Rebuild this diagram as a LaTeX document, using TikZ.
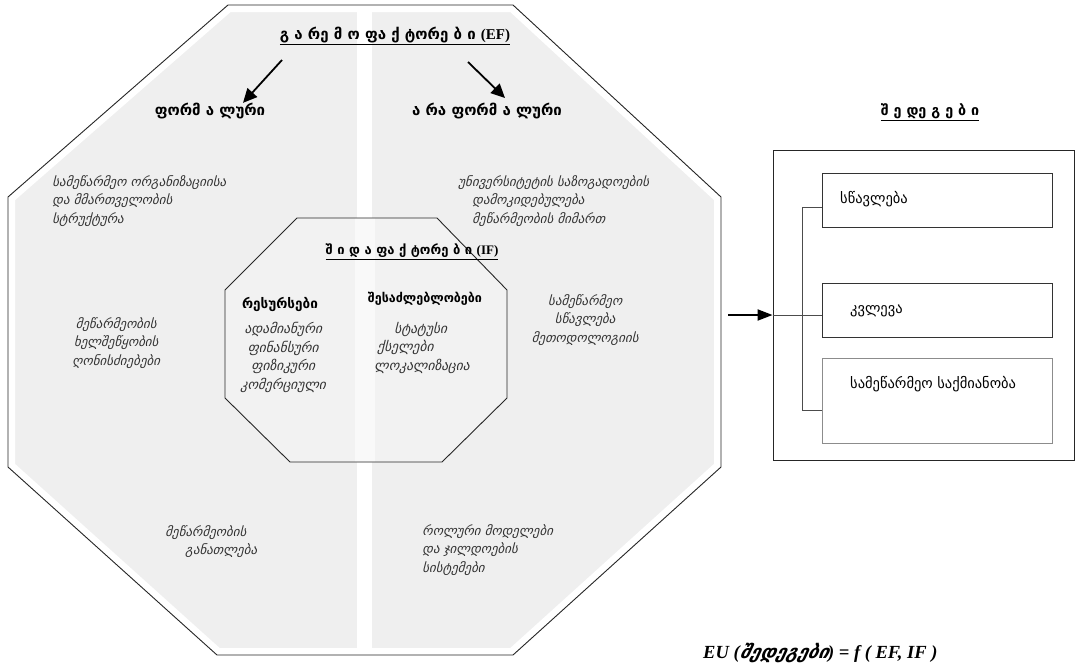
\documentclass[tikz,border=0pt]{standalone}
\usepackage{fontspec}
\setmainfont{Liberation Serif}
\newfontfamily\geo{DejaVu Sans}
\newfontfamily\geoit[FakeSlant=0.25]{DejaVu Sans}
\usetikzlibrary{arrows.meta}
\definecolor{panel}{HTML}{EFEFEF}
\definecolor{ink}{HTML}{333333}
\tikzset{
  itx/.style={font=\geoit\fontsize{13}{18.5}\selectfont, text=ink, align=center, inner sep=0pt},
  itl/.style={itx, align=left},
  hd/.style={font=\geo\bfseries\fontsize{15}{17}\selectfont, inner sep=0pt},
  sub/.style={font=\geo\bfseries\fontsize{13}{15}\selectfont, inner sep=0pt},
  up/.style={font=\geo\fontsize{14.5}{16}\selectfont, inner sep=0pt, anchor=west},
  bigarrow/.style={line width=1.8pt, -{Triangle[length=14pt,width=13pt]}},
  resbox/.style={draw=black!80, line width=0.8pt, minimum width=230pt, inner sep=0pt},
}
\begin{document}
\begin{tikzpicture}[x=1pt,y=-1pt]
\useasboundingbox (0,0) rectangle (1081,662);
% outer octagon
\def\outer{(228,5) -- (513,5) -- (721,197) -- (721,467) -- (513,655) -- (217,655) -- (8,467) -- (8,197) -- cycle}
\fill[panel] \outer;
\draw[white, line width=14pt, line join=miter] \outer;
\fill[white] (357,0) rectangle (372,662);
\draw[black!85, line width=0.9pt] \outer;
% inner octagon
\def\inner{(297,218) -- (437,218) -- (507,290) -- (507,398) -- (442,462) -- (290,462) -- (225,398) -- (225,290) -- cycle}
\fill[panel!80] \inner;
\begin{scope}
\clip \inner;
\fill[white!60!panel] (355,0) rectangle (375,662);
\end{scope}
\draw[black!85, line width=0.9pt] \inner;

% titles
\node[hd] (ef) at (395,36) {\underline{გ ა რე მ ო ფა ქ ტორე ბ ი {\rmfamily\bfseries (EF)}}};
\node[hd] (formal) at (210,111) {ფორმ ა ლური};
\node[hd] (informal) at (487,111) {ა რა ფორმ ა ლური};
\coordinate (la1) at (282,60);
\coordinate (ra1) at (468,62);
\draw[bigarrow] (la1) -- (formal.north -| 243,99);
\draw[bigarrow] (ra1) -- (505,98);

% outer texts
\node[itl, anchor=north west] (t1) at (52,175) {სამეწარმეო ორგანიზაციისა\\და მმართველობის\\სტრუქტურა};
\node[itl, anchor=north west] (t2) at (458,175) {უნივერსიტეტის საზოგადოების\\\hspace*{14pt}დამოკიდებულება\\\hspace*{14pt}მეწარმეობის მიმართ};
\node[itx, anchor=north] (t3) at (116,317) {მეწარმეობის\\ხელშეწყობის\\ღონისძიებები};
\node[itx, anchor=north] (t4) at (585,294) {სამეწარმეო\\სწავლება\\მეთოდოლოგიის};
\node[itl, anchor=north west] (t5) at (165,525) {მეწარმეობის\\\hspace*{20pt}განათლება};
\node[itl, anchor=north west] (t6) at (422,524) {როლური მოდელები\\და ჯილდოების\\სისტემები};

% inner texts
\node[sub] (if) at (412,252) {\underline{შ ი დ ა ფა ქ ტორე ბ ი {\rmfamily\bfseries (IF)}}};
\node[sub, font=\geo\bfseries\fontsize{13.5}{15}\selectfont] (res) at (280,304) {რესურსები};
\node[sub, font=\geo\bfseries\fontsize{12.5}{15}\selectfont] (opp) at (425,299) {შესაძლებლობები};
\node[itx, anchor=north, font=\geoit\fontsize{13.5}{18.5}\selectfont] (r1) at (283,322) {ადამიანური\\ფინანსური\\ფიზიკური\\კომერციული};
\node[itx, anchor=north west, font=\geoit\fontsize{13.5}{18.5}\selectfont] (o1) at (394,322) {სტატუსი};
\node[itx, anchor=north west, font=\geoit\fontsize{13.5}{18.5}\selectfont] (o2) at (377,340) {ქსელები};
\node[itx, anchor=north west, font=\geoit\fontsize{13.5}{18.5}\selectfont] (o3) at (374,359) {ლოკალიზაცია};

% results
\node[hd, font=\geo\bfseries\fontsize{14.3}{16}\selectfont] (res2) at (930,112) {\underline{შ ე დე გ ე ბ ი}};
\node[draw=black!85, line width=0.9pt, minimum width=301pt, minimum height=310pt, inner sep=0pt] (out) at (923.5,305) {};
\node[resbox, minimum height=54pt] (b1) at (937,200) {};
\node[resbox, minimum height=54pt] (b2) at (937,310) {};
\node[resbox, draw=black!45, line width=1pt, minimum height=85pt] (b3) at (937,400.5) {};
\node[up] (l1) at (840,199) {სწავლება};
\node[up] (l2) at (850,311) {კვლევა};
\node[up] (l3) at (850,384) {სამეწარმეო საქმიანობა};
\coordinate (j) at (802,315);
\coordinate (jt) at (802,207);
\coordinate (jb) at (802,410);
\coordinate (as) at (728,315);
\draw[black!70, line width=0.8pt] (jt) -- (jb);
\draw[black!70, line width=0.8pt] (jt) -- (jt -| b1.west);
\draw[black!70, line width=0.8pt] (j) -- (j -| b2.west);
\draw[black!70, line width=0.8pt] (jb) -- (jb -| b3.west);
\draw[black!70, line width=0.8pt] (out.west |- j) -- (j);
\draw[line width=2pt, -{Triangle[length=15pt,width=11pt]}] (as) -- (out.west |- as);

% formula
\node[inner sep=0pt, anchor=west, font=\fontsize{18.5}{20}\selectfont\bfseries\itshape] (f) at (703,653) {EU ({\geoit\bfseries შედეგები}) = \textit{f} ( EF, IF )};
\end{tikzpicture}
\end{document}
